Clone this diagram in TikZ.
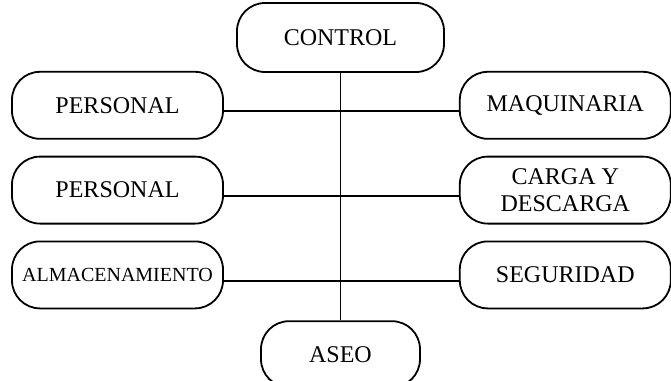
\documentclass[tikz,border=0pt]{standalone}
\usepackage{fontspec}
\setmainfont{Liberation Serif}
\usetikzlibrary{positioning}

\begin{document}
\begin{tikzpicture}[
node distance=8pt,
block/.style={rectangle, draw, rounded corners=14pt, line width=0.9pt, minimum width=105.5pt, minimum height=33.5pt, align=center, font=\fontsize{12pt}{13.5pt}\selectfont},
link/.style={line width=0.9pt}
]
\useasboundingbox (-170.25pt,18.75pt) rectangle (165.25pt,-171.75pt);
\node (control) [block, minimum width=103.5pt, minimum height=34.5pt] {CONTROL};
\node (per1) [block, below=-1pt of control, xshift=-111.5pt] {PERSONAL};
\node (maq) [block, right=117.5pt of per1] {MAQUINARIA};
\node (per2) [block, below=of per1] {PERSONAL};
\node (carga) [block, right=117.5pt of per2] {CARGA Y\\DESCARGA};
\node (alm) [block, below=of per2, font=\fontsize{10pt}{12pt}\selectfont] {ALMACENAMIENTO};
\node (seg) [block, right=117.5pt of alm] {SEGURIDAD};
\node (aseo) [block, minimum width=79.5pt, minimum height=33pt, below=5.5pt of alm, xshift=111.5pt] {ASEO};

\draw [link] (control) -- (aseo);
\draw [link] ([yshift=-3pt]per1.east) -- ([yshift=-3pt]maq.west);
\draw [link] ([yshift=-3pt]per2.east) -- ([yshift=-3pt]carga.west);
\draw [link] ([yshift=-3pt]alm.east) -- ([yshift=-3pt]seg.west);
\end{tikzpicture}
\end{document}
